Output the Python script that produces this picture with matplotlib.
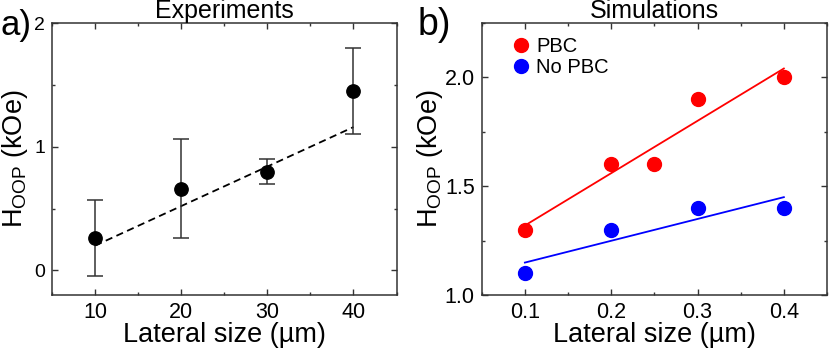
import numpy as np
from matplotlib import pyplot as plt
from matplotlib.ticker import MultipleLocator

plt.rcParams['font.family'] = ['Liberation Sans', 'DejaVu Sans']
plt.rcParams['mathtext.fontset'] = 'custom'
plt.rcParams['mathtext.rm'] = 'Liberation Sans'
plt.rcParams['mathtext.it'] = 'Liberation Sans:italic'

# experiments (panel a)
exp_size = [10, 20, 30, 40]
exp_h = [0.26, 0.66, 0.80, 1.45]
exp_err = [0.31, 0.40, 0.10, 0.35]
exp_fit_x = [10, 40]
exp_fit_y = [0.20, 1.16]

# simulations (panel b)
pbc_size = [0.1, 0.2, 0.25, 0.3, 0.4]
pbc_h = [1.3, 1.6, 1.6, 1.9, 2.0]
nopbc_size = [0.1, 0.2, 0.3, 0.4]
nopbc_h = [1.1, 1.3, 1.4, 1.4]
pbc_fit_x = [0.1, 0.4]
pbc_fit_y = [1.32, 2.04]
nopbc_fit_x = [0.1, 0.4]
nopbc_fit_y = [1.15, 1.45]

spine_col = '#333333'


def style_axes(ax):
    for s in ax.spines.values():
        s.set_color(spine_col)
        s.set_linewidth(1.1)
    ax.tick_params(which='both', direction='in', top=True, right=True,
                   color=spine_col, width=1.0, labelsize=15.5, pad=5)
    ax.tick_params(which='major', length=4.5)
    ax.tick_params(which='minor', length=2.5)


fig = plt.figure(figsize=(8.31, 3.49), dpi=100)
ax1 = fig.add_axes([0.0626, 0.1547, 0.4146, 0.7785])
ax2 = fig.add_axes([0.5797, 0.1539, 0.4155, 0.7810])

# panel a
ax1.errorbar(exp_size, exp_h, yerr=exp_err, fmt='o', color='black', ms=9.6,
             ecolor='#333333', elinewidth=1.1, capsize=5.5, capthick=1.1, zorder=3)
ax1.plot(exp_fit_x, exp_fit_y, '--', color='black', lw=1.3, dashes=(4, 2.5))
ax1.set_xlim(5, 45)
ax1.set_ylim(-0.2, 2)
ax1.xaxis.set_major_locator(MultipleLocator(10))
ax1.xaxis.set_minor_locator(MultipleLocator(5))
ax1.yaxis.set_major_locator(MultipleLocator(1))
ax1.yaxis.set_minor_locator(MultipleLocator(0.5))
style_axes(ax1)
ax1.tick_params(axis='y', labelsize=14)
ax1.set_xlabel('Lateral size (\u00b5m)', fontsize=19.5, labelpad=-1)
ax1.set_ylabel('H$_{\\rm OOP}$ (kOe)', fontsize=19.5, labelpad=3)
ax1.set_title('Experiments', fontsize=18, pad=3)

# panel b
ax2.plot(pbc_size, pbc_h, 'o', color='#ff0000', ms=10, label='PBC', zorder=3)
ax2.plot(nopbc_size, nopbc_h, 'o', color='#0000ff', ms=10, label='No PBC', zorder=3)
ax2.plot(pbc_fit_x, pbc_fit_y, '-', color='#ff0000', lw=1.3)
ax2.plot(nopbc_fit_x, nopbc_fit_y, '-', color='#0000ff', lw=1.3)
ax2.set_xlim(0.05, 0.45)
ax2.set_ylim(1.0, 2.25)
ax2.xaxis.set_major_locator(MultipleLocator(0.1))
ax2.xaxis.set_minor_locator(MultipleLocator(0.05))
ax2.yaxis.set_major_locator(MultipleLocator(0.5))
ax2.yaxis.set_minor_locator(MultipleLocator(0.25))
ax2.set_yticks([1.0, 1.5, 2.0])
style_axes(ax2)
ax2.set_xlabel('Lateral size (\u00b5m)', fontsize=19.5, labelpad=-1)
ax2.set_ylabel('H$_{\\rm OOP}$ (kOe)', fontsize=19.5, labelpad=0)
ax2.set_title('Simulations', fontsize=18, pad=3)
ax2.legend(loc='upper left', bbox_to_anchor=(0.05, 1.0), frameon=False,
           fontsize=14.5, numpoints=1, handlelength=0.8, handletextpad=0.35,
           labelspacing=0.1, borderaxespad=0.3)

fig.text(0.0, 0.9, 'a)', fontsize=25, ha='left', va='baseline')
fig.text(0.503, 0.9, 'b)', fontsize=27, ha='left', va='baseline')

fig.savefig('out.png', dpi=100)
